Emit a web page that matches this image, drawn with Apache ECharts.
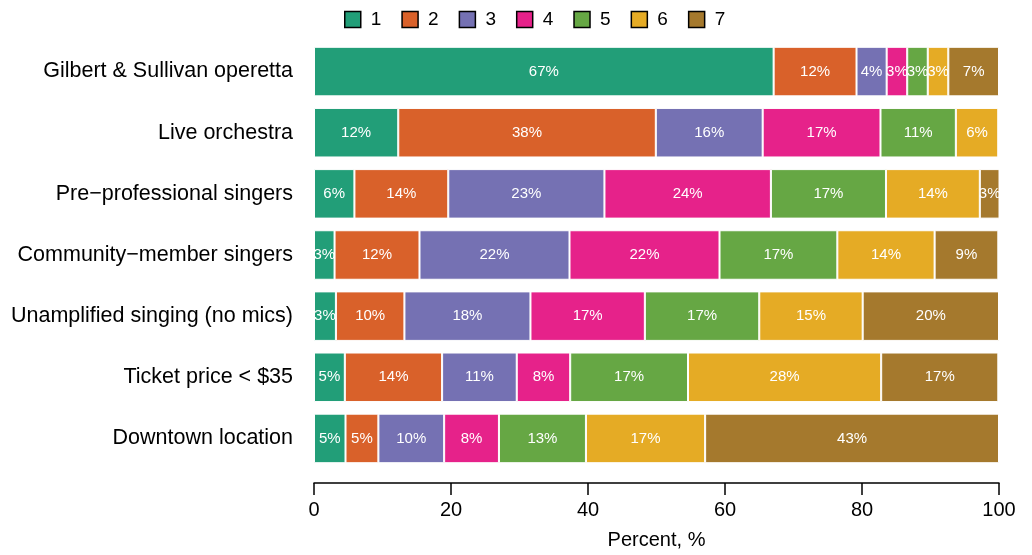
<!DOCTYPE html>
<html><head><meta charset="utf-8">
<script src="https://cdn.jsdelivr.net/npm/echarts@6/dist/echarts.min.js"></script>
<style>html,body{margin:0;padding:0;background:#fff}#c{width:1032px;height:555px}</style>
</head><body><div id="c"></div>
<script>
const categories = ["Gilbert & Sullivan operetta","Live orchestra","Pre\u2212professional singers","Community\u2212member singers","Unamplified singing (no mics)","Ticket price < $35","Downtown location"];
const seriesNames = ["1","2","3","4","5","6","7"];
const s1 = [67.1, 12.3, 5.9, 3.0, 3.2, 4.5, 4.6];
const s2 = [12.1, 37.6, 13.7, 12.4, 10.0, 14.2, 4.8];
const s3 = [4.4, 15.6, 22.8, 21.9, 18.4, 10.9, 9.6];
const s4 = [3.0, 17.2, 24.3, 21.9, 16.7, 7.8, 8.0];
const s5 = [3.0, 11.0, 16.8, 17.2, 16.7, 17.2, 12.7];
const s6 = [3.0, 6.2, 13.7, 14.2, 15.1, 28.2, 17.4];
const s7 = [7.4, 0, 2.9, 9.3, 19.9, 17.1, 42.9];
const xTicks = [0, 20, 40, 60, 80, 100];
const colors = ["#229E78","#D9612A","#7571B3","#E6228A","#66A744","#E5AB25","#A5792D"];
const allData = [s1,s2,s3,s4,s5,s6,s7];
const FONT = "Liberation Sans, Arial, Helvetica, sans-serif";
const chart = echarts.init(document.getElementById('c'));
chart.setOption({
  animation:false,
  textStyle:{fontFamily:FONT},
  legend:{
    top:5, left:339, itemWidth:16, itemHeight:16, itemGap:20,
    icon:'rect',
    itemStyle:{borderColor:'#000',borderWidth:1.5},
    textStyle:{fontSize:19,color:'#000',fontFamily:FONT,padding:[0,0,0,5]},
    data:seriesNames
  },
  grid:{left:314,right:33,top:41,bottom:82,containLabel:false},
  xAxis:{
    type:'value',min:0,max:100,interval:20,offset:14,
    name:'Percent, %',nameLocation:'middle',nameGap:47,
    nameTextStyle:{fontSize:20,color:'#000',fontFamily:FONT},
    axisLine:{show:true,lineStyle:{color:'#000',width:1.5}},
    axisTick:{show:true,length:12,lineStyle:{color:'#000',width:1.5}},
    axisLabel:{fontSize:20,color:'#000',margin:17,fontFamily:FONT,
      formatter:v=>xTicks.includes(v)?String(v):''},
    splitLine:{show:false}
  },
  yAxis:{
    type:'category',data:categories,inverse:true,
    axisLine:{show:false},axisTick:{show:false},
    axisLabel:{fontSize:21.5,color:'#000',margin:21,fontFamily:FONT}
  },
  series: allData.map((d,i)=>({
    name:seriesNames[i],type:'bar',stack:'total',data:d,
    barWidth:'81%',
    itemStyle:{color:colors[i],borderColor:'#fff',borderWidth:1},
    label:{show:true,position:'inside',color:'#fff',fontSize:15,fontFamily:FONT,
      formatter:p=>p.value>0?Math.round(p.value)+'%':''}
  }))
});
</script></body></html>
